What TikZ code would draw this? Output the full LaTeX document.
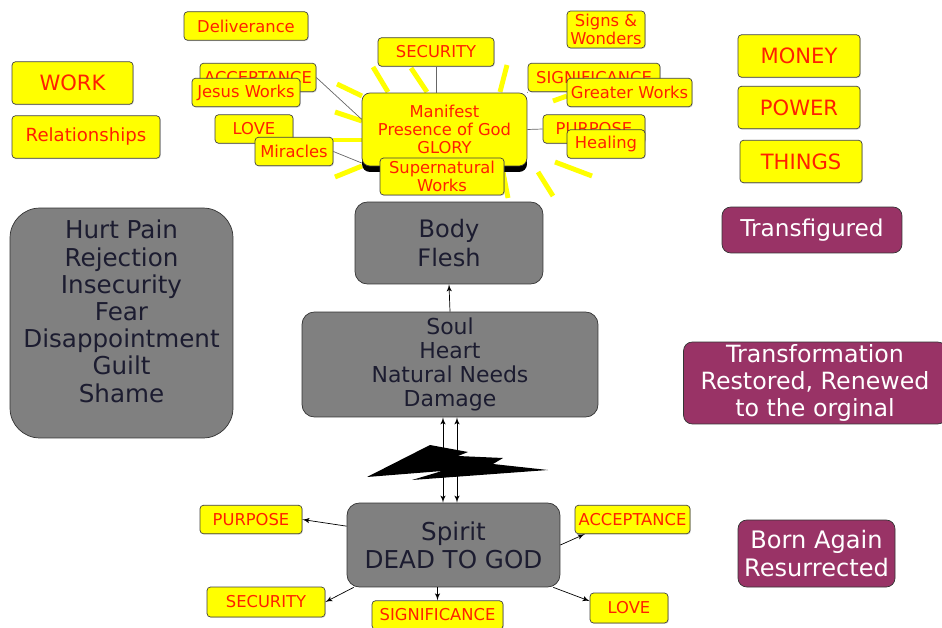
\documentclass[tikz,border=0pt]{standalone}
\usepackage{fontspec}
\setmainfont{DejaVu Sans}
\usepackage{tikz}
\usetikzlibrary{arrows,shadows,calc}
\definecolor{tagred}{RGB}{255,32,0}
\definecolor{tagyellow}{RGB}{255,255,0}
\definecolor{partgray}{RGB}{128,128,128}
\definecolor{partink}{RGB}{28,28,48}
\definecolor{stageplum}{RGB}{153,51,102}
\tikzstyle{tag}=[draw=black!75,fill=tagyellow,text=tagred,rounded corners=2pt,inner sep=0pt,minimum height=0.57cm,align=center,font=\fontsize{9.3}{10.4}\selectfont,drop shadow={shadow xshift=0.5pt,shadow yshift=-0.5pt,opacity=0.3}]
\tikzstyle{bigtag}=[tag,minimum height=0.85cm,minimum width=2.44cm,font=\fontsize{12}{14}\selectfont]
\tikzstyle{glow}=[draw=black!75,fill=tagyellow,text=tagred,rounded corners=4.5pt,inner sep=0pt,align=center,font=\fontsize{9.3}{10.4}\selectfont,drop shadow={shadow xshift=0pt,shadow yshift=-3.4pt,fill=black,opacity=1}]
\tikzstyle{part}=[draw=black!80,fill=partgray,text=partink,rounded corners=7pt,inner sep=0pt,align=center]
\tikzstyle{stage}=[draw=black!80,fill=stageplum,text=white,rounded corners=5pt,inner sep=0pt,align=center]
\tikzstyle{ray}=[draw=tagyellow,line width=2.8pt]
\tikzstyle{link}=[draw=black!60,thin]
\tikzstyle{pointer}=[draw,-latex',thin]

\begin{document}
\begin{tikzpicture}[x=0.02cm,y=-0.02cm]
  \useasboundingbox (0,0) rectangle (942,628);
  % rays round the glory
  \foreach \ax/\ay/\bx/\by in {373/67/388/92, 411/68/427/92, 507/65/500/92, 337/84/362/96,
      335/112/362/121, 333/140/362/140, 335/177/362/166, 538/172/553/196, 555/162/592/176,
      553/101/567/96, 503/172/508/198}
    \draw[ray] (\ax,\ay) -- (\bx,\by);

  % top labels
  \node[tag,minimum width=2.48cm] (deliv) at (246,26) {Deliverance};
  \node[tag,minimum width=2.32cm] (secTop) at (436,52) {SECURITY};
  \node[tag,minimum width=1.56cm,minimum height=0.74cm] (signs) at (606,29.5) {Signs \&\\Wonders};
  \node[tag,minimum width=2.32cm] (accTop) at (258,77.5) {ACCEPTANCE};
  \node[tag,minimum width=2.16cm] (jesus) at (246,92.5) {Jesus Works};
  \node[tag,minimum width=1.56cm] (loveTop) at (254,129) {LOVE};
  \node[tag,minimum width=1.56cm] (miracles) at (294,151.5) {Miracles};
  \node[tag,minimum width=2.64cm] (sigTop) at (594,77.5) {SIGNIFICANCE};
  \node[tag,minimum width=2.5cm] (greater) at (629.5,92.5) {Greater Works};
  \node[tag,minimum width=2.04cm] (purpTop) at (594,129) {PURPOSE};
  \node[tag,minimum width=1.56cm] (healing) at (606,144) {Healing};
  \node[glow,minimum width=3.3cm,minimum height=1.46cm] (glory) at (444.5,129.5) {Manifest\\Presence of God\\GLORY};
  \node[tag,minimum width=2.48cm,minimum height=0.74cm] (superW) at (442,176.5) {Supernatural\\Works};

  \node[bigtag,minimum width=2.42cm] (work) at (72.5,83) {WORK};
  \node[bigtag,minimum width=2.96cm,font=\fontsize{10.3}{12}\selectfont] (relat) at (86,137) {Relationships};
  \node[bigtag] (money) at (799,56) {MONEY};
  \node[bigtag] (power) at (799,107.5) {POWER};
  \node[bigtag] (things) at (801,161.5) {THINGS};

  % body, soul, spirit
  \node[part,minimum width=4.46cm,minimum height=4.6cm,rounded corners=17pt,font=\fontsize{14}{15.5}\selectfont] (hurt) at (121.5,323) {Hurt Pain\\Rejection\\Insecurity\\Fear\\Disappointment\\Guilt\\Shame\\[-2pt]\mbox{}};
  \node[part,minimum width=3.76cm,minimum height=1.64cm,font=\fontsize{13.7}{16}\selectfont] (body) at (449,243) {Body\\Flesh};
  \node[part,minimum width=5.92cm,minimum height=2.1cm,font=\fontsize{12.5}{13.6}\selectfont] (soul) at (450,364.5) {Soul\\Heart\\Natural Needs\\Damage};
  \node[part,minimum width=4.26cm,minimum height=1.68cm,font=\fontsize{14}{16}\selectfont] (spirit) at (453.5,545) {Spirit\\DEAD TO GOD};

  \node[stage,minimum width=3.6cm,minimum height=0.92cm,font=\fontsize{13.2}{15}\selectfont] (transfig) at (812,230) {Transfigured};
  \node[stage,minimum width=5.26cm,minimum height=1.64cm,font=\fontsize{13.5}{15.6}\selectfont] (transform) at (815,383) {Transformation\\Restored, Renewed\\to the orginal};
  \node[stage,minimum width=3.14cm,minimum height=1.34cm,font=\fontsize{13.7}{16}\selectfont] (born) at (816.5,553.5) {Born Again\\Resurrected};

  % bottom labels
  \node[tag,minimum width=2.04cm] (purpBot) at (251,519.5) {PURPOSE};
  \node[tag,minimum width=2.3cm] (accBot) at (632.5,519.5) {ACCEPTANCE};
  \node[tag,minimum width=2.36cm,minimum height=0.6cm] (secBot) at (266,602) {SECURITY};
  \node[tag,minimum width=2.62cm] (sigBot) at (437.5,615) {SIGNIFICANCE};
  \node[tag,minimum width=1.56cm,minimum height=0.6cm] (loveBot) at (629,608) {LOVE};

  % links to the glory
  \draw[link] (secTop.south) -- (secTop.south |- glory.north);
  \draw[link] (accTop.east) -- (glory.173);
  \draw[link] (miracles.east) -- (glory.202);
  \draw[link] (glory.north east) -- (sigTop.south west);
  \draw[link] (glory.east) -- (purpTop.west);

  \draw[pointer] (soul.north) -- (body.south);

  % broken link soul - spirit
  \coordinate (upL) at ($(soul.south)+(-7,0)$);
  \coordinate (upR) at ($(soul.south)+(7,0)$);
  \draw[latex'-latex',thin] (upL) -- (upL |- spirit.north);
  \draw[latex'-latex',thin] (upR) -- (upR |- spirit.north);
  \fill[black] (367,477) -- (430,445) -- (468,452) -- (458,456) -- (503,458) -- (493,464)
    -- (548,470) -- (412,480) -- (442,471) -- cycle;

  % needs of the spirit
  \draw[pointer] (spirit.170) -- (purpBot.east);
  \draw[pointer] (spirit.203) -- (secBot.east);
  \draw[pointer] (sigBot.north |- spirit.south) -- (sigBot.north);
  \draw[pointer] (spirit.337) -- (loveBot.170);
  \draw[pointer] (spirit.east) -- (accBot.197);
\end{tikzpicture}
\end{document}
